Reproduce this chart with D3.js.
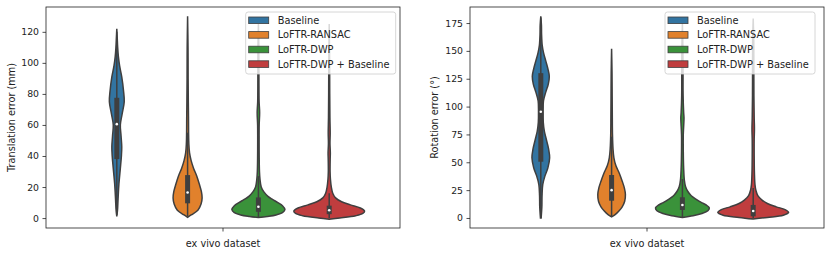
<!DOCTYPE html>
<html>
<head>
<meta charset="utf-8">
<script src="https://cdn.jsdelivr.net/npm/d3@7"></script>
<style>
  body { margin: 0; background: #fff; }
  text { font-family: "DejaVu Sans", sans-serif; }
</style>
</head>
<body>
<svg id="chart" width="831" height="256"></svg>
<script>
// categories and series
var category = "ex vivo dataset";
var seriesNames = ["Baseline", "LoFTR-RANSAC", "LoFTR-DWP", "LoFTR-DWP + Baseline"];

// tick labels
var transTicks = [0, 20, 40, 60, 80, 100, 120];
var rotTicks = [0, 25, 50, 75, 100, 125, 150, 175];

// violin outlines: [value, relative density]
var transDensity = [
  [[1,0],[5,0.02],[12,0.035],[22,0.06],[32,0.1],[40,0.13],[46,0.14],[53,0.12],[60,0.1],[67,0.15],[75,0.21],[82,0.19],[91,0.14],[98,0.08],[104,0.045],[110,0.025],[116,0.012],[122,0]],
  [[0.5,0],[2,0.1],[5,0.29],[9,0.38],[13,0.41],[17,0.39],[22,0.33],[27,0.26],[32,0.17],[37,0.1],[42,0.055],[48,0.035],[55,0.028],[65,0.025],[75,0.02],[90,0.015],[110,0.012],[130,0]],
  [[0.3,0],[1,0.25],[2,0.5],[3.5,0.68],[5.5,0.75],[8,0.68],[10,0.55],[12,0.4],[14,0.27],[17,0.15],[20,0.08],[25,0.045],[30,0.03],[40,0.022],[50,0.02],[60,0.022],[68,0.035],[75,0.02],[90,0.015],[110,0.012],[125,0]],
  [[-0.8,0],[0,0.3],[1.5,0.75],[3,0.95],[4.5,1.0],[6.5,0.88],[8.5,0.6],[10.5,0.35],[13,0.18],[16,0.1],[20,0.06],[25,0.035],[30,0.025],[38,0.028],[42,0.032],[48,0.022],[55,0.028],[65,0.02],[80,0.015],[100,0.012],[125,0]]
];
var rotDensity = [
  [[0,0.01],[10,0.03],[20,0.035],[30,0.055],[38,0.12],[45,0.2],[54,0.25],[62,0.22],[70,0.16],[78,0.1],[86,0.07],[95,0.065],[105,0.075],[113,0.14],[120,0.21],[127,0.24],[134,0.2],[141,0.14],[148,0.08],[155,0.04],[165,0.022],[173,0.018],[181,0]],
  [[1,0],[3,0.1],[6,0.2],[10,0.3],[15,0.37],[21,0.39],[27,0.36],[33,0.3],[40,0.22],[47,0.12],[54,0.065],[62,0.04],[75,0.025],[90,0.02],[110,0.016],[130,0.012],[152,0]],
  [[0.5,0],[2,0.3],[4,0.55],[6.5,0.72],[9,0.76],[11.5,0.68],[14,0.53],[17,0.38],[20,0.25],[24,0.15],[28,0.09],[34,0.055],[45,0.035],[60,0.025],[75,0.025],[85,0.04],[90,0.045],[95,0.035],[110,0.02],[130,0.018],[150,0.015],[175,0]],
  [[-1,0],[0.5,0.4],[2.5,0.85],[5,1.0],[7.5,0.9],[10,0.65],[13,0.4],[16,0.25],[20,0.13],[25,0.075],[30,0.05],[40,0.035],[55,0.028],[70,0.028],[80,0.035],[90,0.028],[110,0.02],[140,0.018],[160,0.015],[179,0]]
];

// inner box: [whisker low, q1, median, q3, whisker high]
var transBox = [[2,38,60.5,77.5,120],[1,9.5,16.5,27.7,55],[0.5,4,7.3,13.3,27],[0,2.5,5,8,16]];
var rotBox = [[0,50.5,95.4,130,180],[1,15.5,25,38.6,73],[0.5,7.2,11.7,18.6,35],[0,1.5,6.3,11.7,27]];

var colors = ["#3274a1", "#e1812c", "#3a923a", "#c03d3e"];
var outline = "#3f3f3f";
var plotTop = 7, plotBottom = 228;

var svg = d3.select("#chart");

drawPanel({left: 46, right: 400, domain: [-6.4, 136], ticks: transTicks, density: transDensity,
  box: transBox, ylabel: "Translation error (mm)", ylabelX: 12, legendX: 245.7});
drawPanel({left: 470, right: 824, domain: [-9, 189.4], ticks: rotTicks, density: rotDensity,
  box: rotBox, ylabel: "Rotation error (°)", ylabelX: 435, legendX: 665});

function drawPanel(o) {
  var g = svg.append("g");
  var x = d3.scaleBand().domain([category]).range([o.left, o.right]);
  var bw = x.bandwidth();
  var hue = d3.scaleBand().domain(seriesNames)
    .range([x(category) + bw * 0.1, x(category) + bw * 0.9]);
  var y = d3.scaleLinear().domain(o.domain).range([plotBottom, plotTop]);
  var w = d3.scaleLinear().domain([0, 1]).range([0, hue.bandwidth() / 2]);

  seriesNames.forEach(function(name, i) {
    var cx = hue(name) + hue.bandwidth() / 2;
    var area = d3.area()
      .y(function(d) { return y(d[0]); })
      .x0(function(d) { return cx - w(d[1]); })
      .x1(function(d) { return cx + w(d[1]); })
      .curve(d3.curveCatmullRom);
    g.append("path")
      .attr("d", area(o.density[i]))
      .attr("fill", colors[i])
      .attr("stroke", outline)
      .attr("stroke-width", 1.5);

    var b = o.box[i];
    g.append("line")
      .attr("x1", cx).attr("x2", cx)
      .attr("y1", y(b[0])).attr("y2", y(b[4]))
      .attr("stroke", outline).attr("stroke-width", 1.5);
    g.append("line")
      .attr("x1", cx).attr("x2", cx)
      .attr("y1", y(b[1])).attr("y2", y(b[3]))
      .attr("stroke", outline).attr("stroke-width", 5);
    g.append("circle")
      .attr("cx", cx).attr("cy", y(b[2]))
      .attr("r", 1.3)
      .attr("fill", "white");
  });

  // y axis
  var yAxis = d3.axisLeft(y).tickValues(o.ticks).tickSize(3.5).tickPadding(3.5);
  var ya = g.append("g")
    .attr("transform", "translate(" + o.left + ",0)")
    .call(yAxis);
  ya.select(".domain").remove();
  ya.selectAll("line").attr("stroke", "#222").attr("stroke-width", 0.8);
  ya.selectAll("text").attr("font-size", "9.3px").attr("fill", "#222")
    .attr("font-family", "DejaVu Sans");

  // x axis
  var xAxis = d3.axisBottom(x).tickSize(3.5).tickFormat("");
  var xa = g.append("g")
    .attr("transform", "translate(0," + plotBottom + ")")
    .call(xAxis);
  xa.select(".domain").remove();
  xa.selectAll("line").attr("stroke", "#222").attr("stroke-width", 0.8);

  g.append("text")
    .attr("x", x(category) + bw / 2)
    .attr("y", 246.5)
    .attr("text-anchor", "middle")
    .attr("font-size", "9.7px")
    .attr("fill", "#222")
    .text(category);

  g.append("text")
    .attr("transform", "translate(" + o.ylabelX + "," + (plotTop + plotBottom) / 2 + ") rotate(-90)")
    .attr("dy", "0.35em")
    .attr("text-anchor", "middle")
    .attr("font-size", "9.7px")
    .attr("fill", "#222")
    .text(o.ylabel);

  // spines
  g.append("rect")
    .attr("x", o.left).attr("y", plotTop)
    .attr("width", o.right - o.left).attr("height", plotBottom - plotTop)
    .attr("fill", "none")
    .attr("stroke", "#222")
    .attr("stroke-width", 0.8);

  // legend
  var lg = g.append("g").attr("transform", "translate(" + o.legendX + ",12)");
  lg.append("rect")
    .attr("width", 150).attr("height", 62)
    .attr("rx", 2.5)
    .attr("fill", "white").attr("fill-opacity", 0.8)
    .attr("stroke", "#ccc").attr("stroke-width", 0.8);
  seriesNames.forEach(function(name, i) {
    var ry = 8.3 + i * 14.6;
    lg.append("rect")
      .attr("x", 3).attr("y", ry - 3.3)
      .attr("width", 20).attr("height", 6.6)
      .attr("fill", colors[i])
      .attr("stroke", outline).attr("stroke-width", 0.8);
    lg.append("text")
      .attr("x", 32).attr("y", ry)
      .attr("dy", "0.35em")
      .attr("font-size", "9.8px")
      .attr("fill", "#222")
      .text(name);
  });
}
</script>
</body>
</html>
